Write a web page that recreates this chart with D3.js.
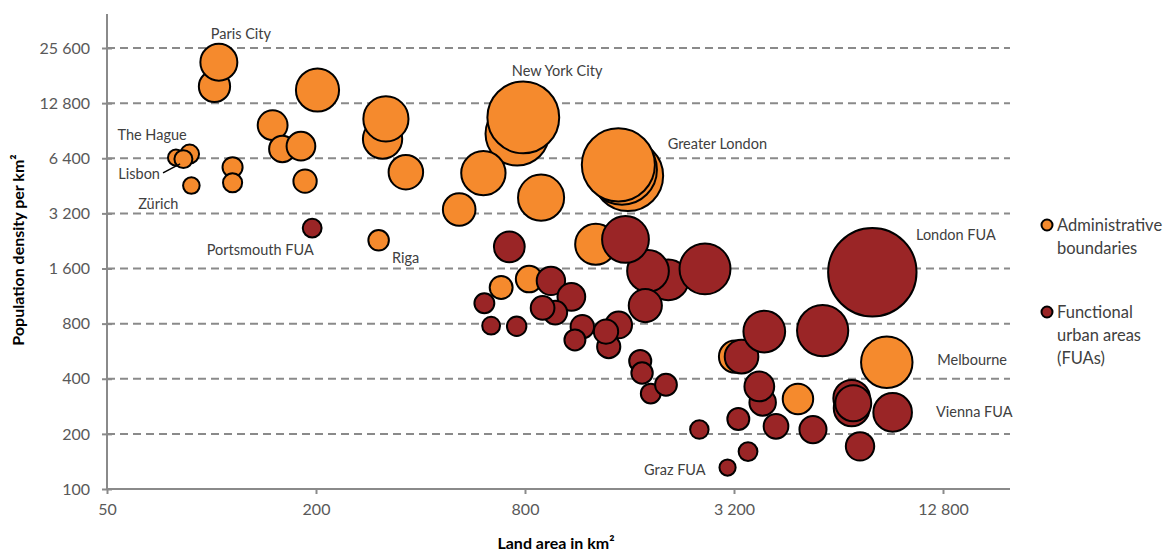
<!DOCTYPE html>
<html><head><meta charset="utf-8">
<script src="https://cdn.jsdelivr.net/npm/d3@7"></script>
<style>
body{margin:0;background:#fff}
svg{display:block}
text{font-family:Lato,"Open Sans",sans-serif}
</style>
</head><body>
<svg id="chart" width="1172" height="551"></svg>
<script>
// ---------- data ----------
const xTickValues = [50, 200, 800, 3200, 12800];
const yTickValues = [100, 200, 400, 800, 1600, 3200, 6400, 12800, 25600];

// Administrative boundaries: land area (km²), density (per km²), population (millions)
const adminArea    = [102, 105, 202, 150, 160, 181, 311, 318, 363, 79, 86.5, 83, 87.5, 115, 115, 186, 303, 760, 791, 607, 517, 890, 1584, 1522, 1486, 1279, 822, 683, 3222, 8816, 4891];
const adminDensity = [15800, 21400, 15100, 9700, 7200, 7450, 8150, 10500, 5370, 6450, 6750, 6330, 4540, 5720, 4700, 4800, 2280, 8700, 10700, 5310, 3360, 3900, 5130, 5530, 5890, 2170, 1400, 1260, 528, 492, 310];
const adminPop     = [1.6, 2.24, 3.05, 1.46, 1.15, 1.35, 2.53, 3.34, 1.95, 0.42, 0.58, 0.53, 0.45, 0.66, 0.6, 0.89, 0.69, 6.6, 8.45, 3.22, 1.74, 3.48, 8.1, 8.0, 8.75, 2.77, 1.15, 0.86, 1.7, 4.34, 1.52];

// Functional urban areas
const fuaArea    = [195, 721, 2069, 1809, 1558, 2640, 950, 1088, 611, 978, 899, 1777, 639, 757, 1170, 1489, 1394, 1369, 1114, 1718, 1739, 1842, 2038, 2543, 3293, 3512, 3066, 3364, 3912, 5761, 8010, 3870, 3785, 6984, 6984, 7058, 9165, 4228, 5403, 7382];
const fuaDensity = [2660, 2100, 1386, 1552, 2307, 1592, 1370, 1120, 1034, 919, 975, 1004, 780, 774, 770, 787, 599, 724, 652, 500, 430, 332, 371, 211, 241, 160, 131, 528, 724, 733, 1527, 297, 363, 313, 276, 294, 262, 220, 211, 171];
const fuaPop     = [0.58, 1.55, 2.7, 2.85, 3.59, 4.25, 1.32, 1.26, 0.65, 0.92, 0.92, 1.8, 0.52, 0.62, 0.9, 1.17, 0.88, 0.97, 0.72, 0.8, 0.75, 0.64, 0.78, 0.56, 0.79, 0.58, 0.43, 1.85, 2.85, 4.3, 12.8, 1.15, 1.45, 2.2, 2.1, 2.12, 2.44, 1.0, 1.2, 1.32];

// annotation labels anchored in data units (area, density) – left edge / baseline
const labelText    = ["Paris City", "The Hague", "Lisbon", "Zürich", "Portsmouth FUA", "Riga", "New York City", "Greater London", "London FUA", "Melbourne", "Vienna FUA", "Graz FUA"];
const labelArea    = [99.5, 53.6, 53.9, 61.5, 96.9, 331, 733, 2061, 10700, 12320, 12220, 1762];
const labelDensity = [28740, 8070, 4940, 3366, 1899, 1717, 18040, 7210, 2293, 476, 247, 119];
// Lisbon leader line (area, density) endpoints
const leaderArea    = [72.5, 81.2];
const leaderDensity = [5330, 5965];

const legendNames = [["Administrative", "boundaries"], ["Functional", "urban areas", "(FUAs)"]];

// ---------- drawing ----------
const ORANGE = "#F58A2D", DARK = "#9A2526", GRID = "#8A8A8A";
const svg = d3.select("#chart");

const x = d3.scaleLog().domain([50, 12800]).range([107, 943]);
const y = d3.scaleLog().domain([100, 25600]).range([489, 48]);
const r = d3.scaleSqrt().domain([0, 12.8]).range([0, 44.2]);
const plotRight = 1010, plotTop = 14;
const fmt = v => d3.format(",")(v).replace(/,/g, " ");

// gridlines
svg.append("g").selectAll("line").data(yTickValues.slice(1)).join("line")
  .attr("x1", x(50)).attr("x2", plotRight)
  .attr("y1", d => y(d)).attr("y2", d => y(d))
  .attr("stroke", GRID).attr("stroke-width", 2).attr("stroke-dasharray", "8,5");

// x axis
const xAxis = svg.append("g").attr("transform", `translate(0,${y(100)})`)
  .call(d3.axisBottom(x).tickValues(xTickValues).tickFormat(fmt).tickSize(5).tickPadding(10));
xAxis.select(".domain").attr("d", `M${x(50)},0H${plotRight}`);
// y axis
const yAxis = svg.append("g").attr("transform", `translate(${x(50)},0)`)
  .call(d3.axisLeft(y).tickValues(yTickValues).tickFormat(fmt).tickSize(5).tickPadding(12));
yAxis.select(".domain").attr("d", `M0,${plotTop}V${y(100)}`);
yAxis.selectAll(".tick line").attr("x1", 5).attr("x2", -5);
[xAxis, yAxis].forEach(a => {
  a.select(".domain").attr("stroke", GRID).attr("stroke-width", 2);
  a.selectAll(".tick line").attr("stroke", GRID).attr("stroke-width", 2);
  a.selectAll(".tick text").attr("fill", "#595959").attr("font-size", 16)
    .style("font-family", "Lato, 'Open Sans', sans-serif");
});

// bubbles
function drawSeries(area, dens, pop, color) {
  const data = area.map((a, i) => ({a, d: dens[i], p: pop[i]}));
  svg.append("g").selectAll("circle").data(data).join("circle")
    .attr("cx", d => x(d.a)).attr("cy", d => y(d.d)).attr("r", d => r(d.p))
    .attr("fill", color).attr("stroke", "#000").attr("stroke-width", 2);
}
drawSeries(adminArea, adminDensity, adminPop, ORANGE);
drawSeries(fuaArea, fuaDensity, fuaPop, DARK);

// labels
svg.append("g").selectAll("text").data(labelText).join("text")
  .attr("x", (d, i) => x(labelArea[i])).attr("y", (d, i) => y(labelDensity[i]))
  .attr("font-size", 14.5).attr("fill", "#404040").text(d => d);
svg.append("line")
  .attr("x1", x(leaderArea[0])).attr("y1", y(leaderDensity[0]))
  .attr("x2", x(leaderArea[1])).attr("y2", y(leaderDensity[1]))
  .attr("stroke", "#000").attr("stroke-width", 1.5);

// axis titles
svg.append("text").attr("x", 556).attr("y", 549).attr("text-anchor", "middle")
  .attr("font-weight", "bold").attr("font-size", 16).attr("fill", "#000").text("Land area in km²");
svg.append("text").attr("transform", "translate(24,250) rotate(-90)").attr("text-anchor", "middle")
  .attr("font-weight", "bold").attr("font-size", 16).attr("fill", "#000").text("Population density per km²");

// legend
const legend = svg.append("g");
const legendColors = [ORANGE, DARK];
const legendTop = [225, 312];
legendNames.forEach((lines, k) => {
  legend.append("circle").attr("cx", 1047).attr("cy", legendTop[k]).attr("r", 5.5)
    .attr("fill", legendColors[k]).attr("stroke", "#000").attr("stroke-width", 2);
  lines.forEach((t, j) => {
    legend.append("text").attr("x", 1057).attr("y", legendTop[k] + 6 + j * 23)
      .attr("font-size", 16.5).attr("fill", "#404040").text(t);
  });
});
</script>
</body></html>
